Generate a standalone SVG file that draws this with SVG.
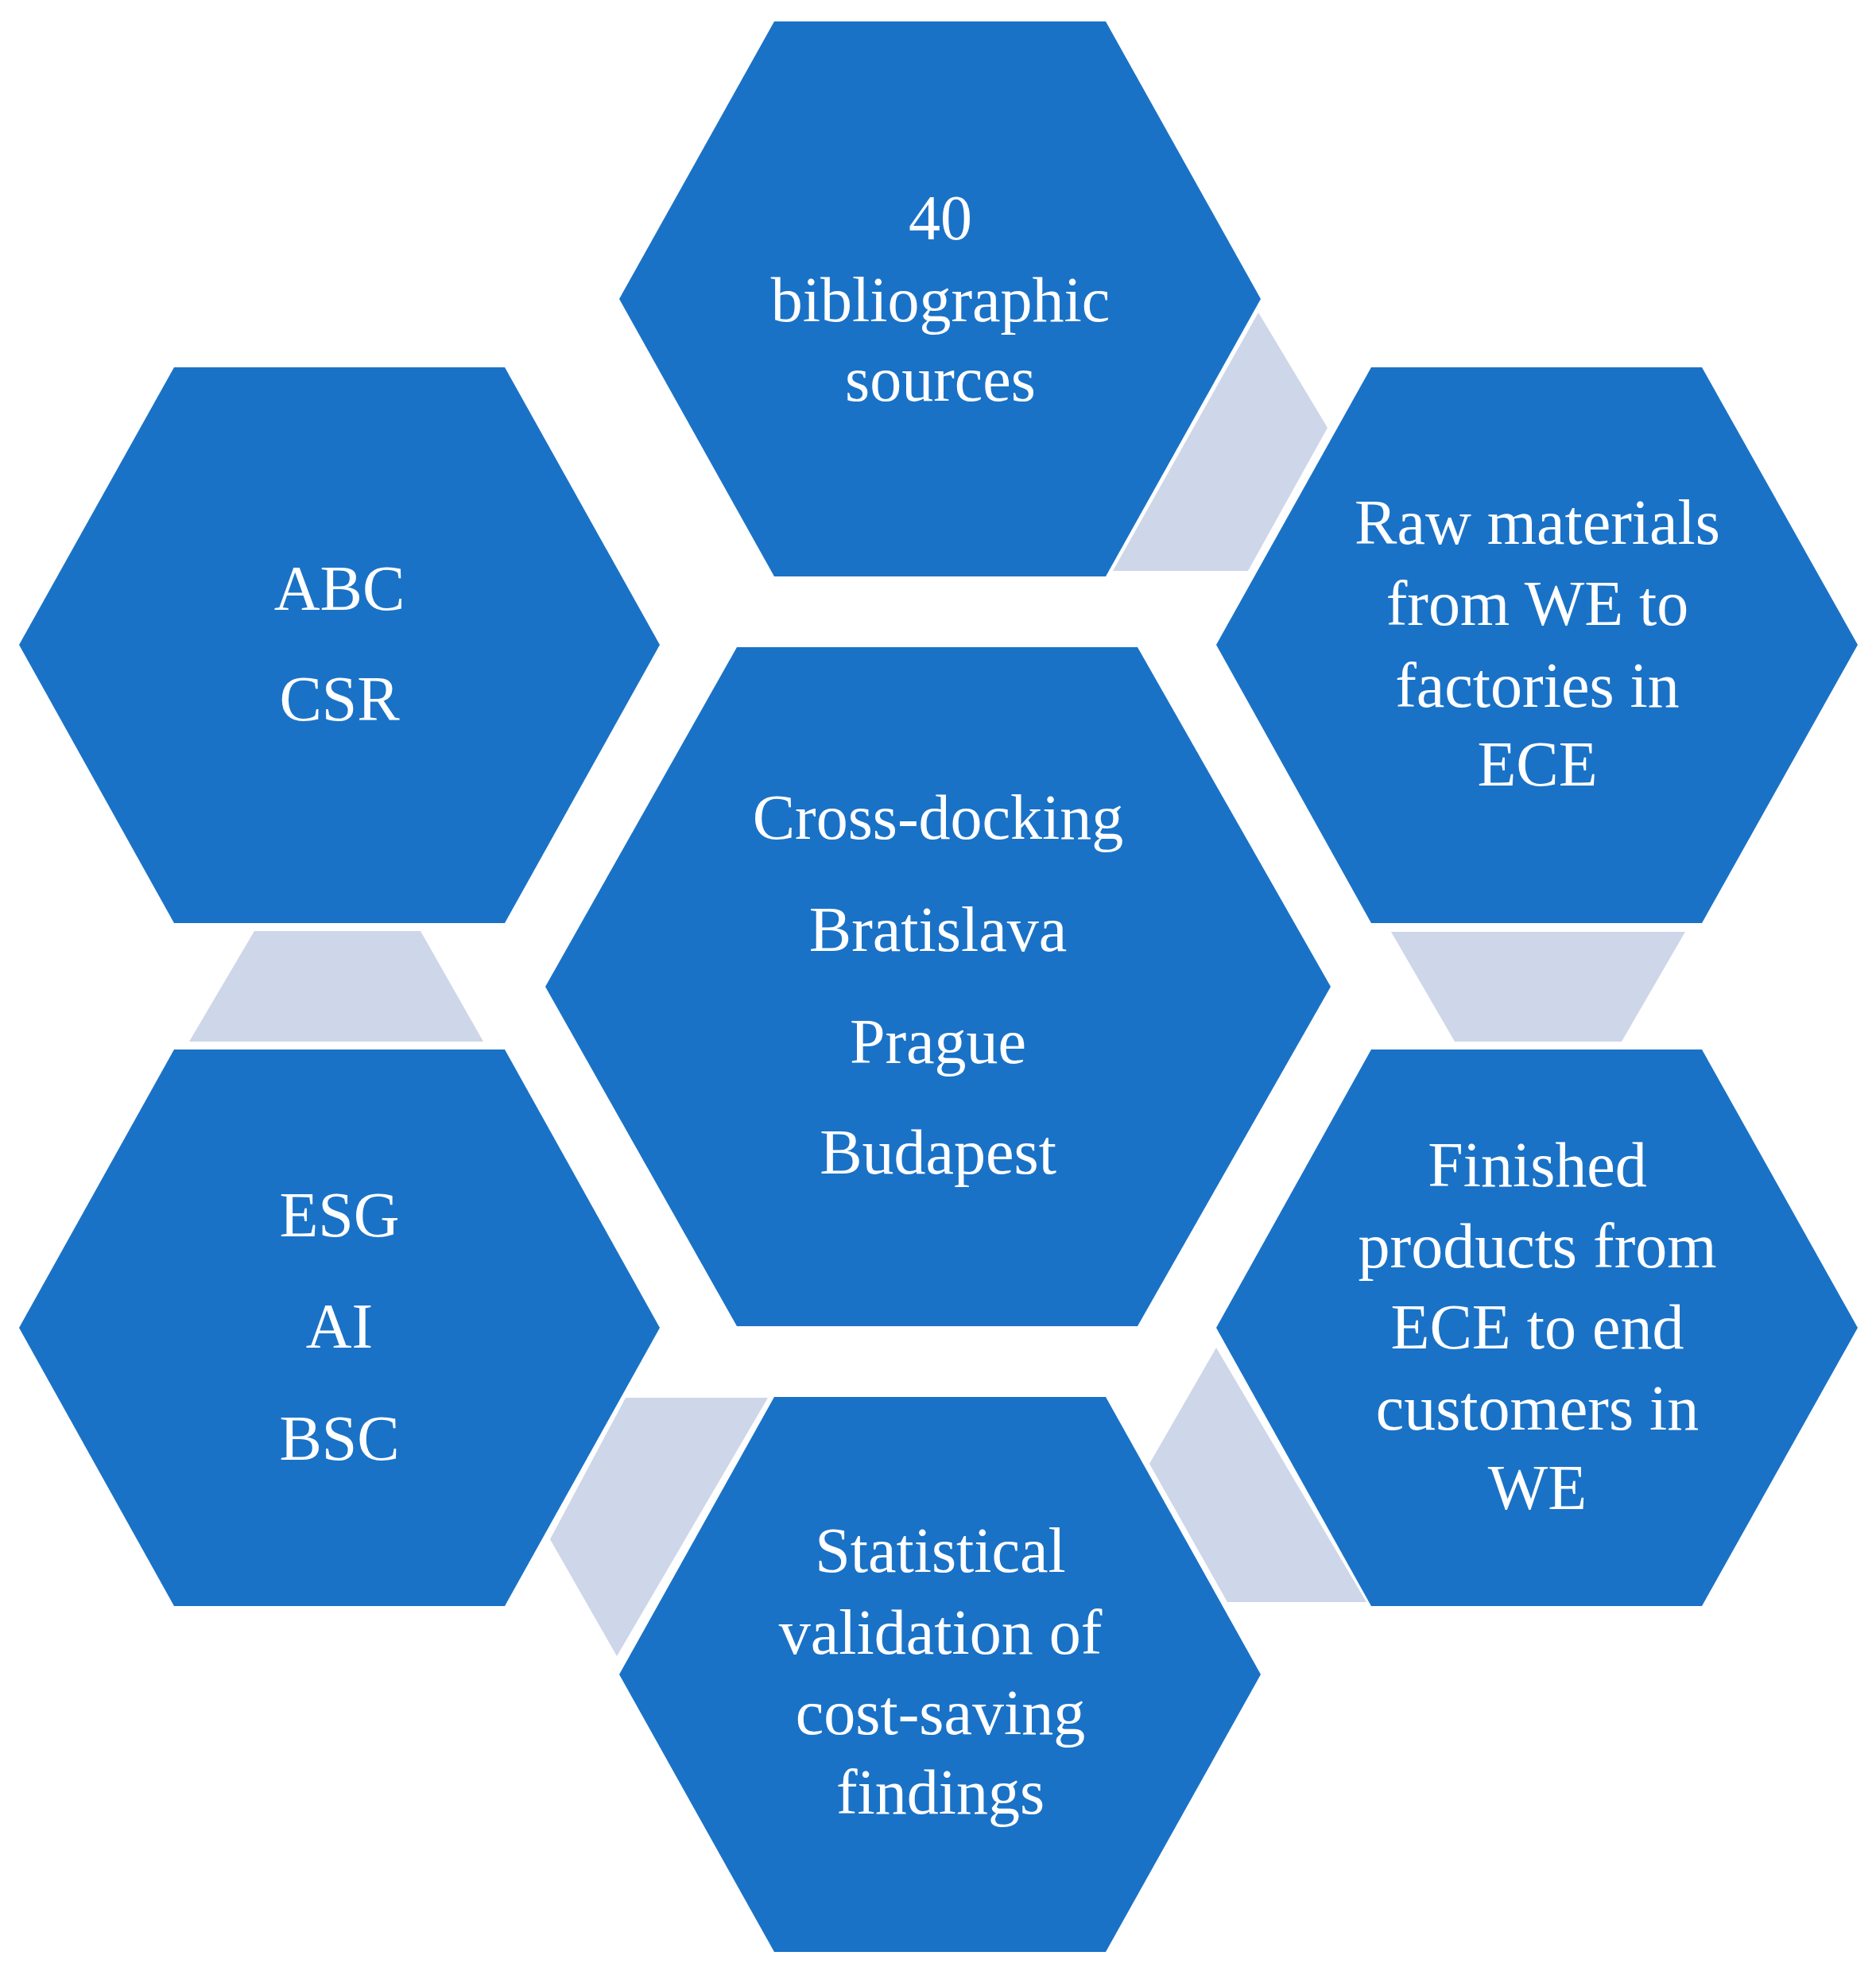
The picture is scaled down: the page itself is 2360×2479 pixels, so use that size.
<svg xmlns="http://www.w3.org/2000/svg" width="2360" height="2479" viewBox="0 0 2360 2479">
<style>
.hex{fill:#1A72C7}
.con{fill:#CED6E9}
text{font-family:"Liberation Serif","DejaVu Serif",serif;font-size:80px;fill:#fff;text-anchor:middle}
</style>
<rect width="2360" height="2479" fill="#fff"/>
<g id="connectors">
<polygon class="con" points="1583,393 1670,538 1570,718 1400,718"/>
<polygon class="con" points="1750,1172 2120,1172 2040,1310 1830,1310"/>
<polygon class="con" points="1530,1695 1719,2015 1544,2015 1446,1841"/>
<polygon class="con" points="787,1758 966,1758 776,2083 692,1936"/>
<polygon class="con" points="320,1171 529,1171 608,1310 238,1310"/>
</g>
<g id="top">
<polygon class="hex" points="974,27 1391,27 1586,376 1391,725 974,725 779,376"/>
<text x="1183" y="301">40</text><text x="1183" y="404">bibliographic</text><text x="1183" y="504">sources</text>
</g>
<g id="abc">
<polygon class="hex" points="219,462 635,462 830,811 635,1161 219,1161 24,811"/>
<text x="427" y="767">ABC</text><text x="427" y="906">CSR</text>
</g>
<g id="raw">
<polygon class="hex" points="1725,462 2141,462 2337,811 2141,1161 1725,1161 1530,811"/>
<text x="1934" y="684">Raw materials</text><text x="1934" y="786">from WE to</text><text x="1934" y="889">factories in</text><text x="1934" y="988">ECE</text>
</g>
<g id="center">
<polygon class="hex" points="927,814 1431,814 1674,1241 1431,1668 927,1668 686,1241"/>
<text x="1180" y="1055">Cross-docking</text><text x="1180" y="1196">Bratislava</text><text x="1180" y="1337">Prague</text><text x="1180" y="1476">Budapest</text>
</g>
<g id="esg">
<polygon class="hex" points="219,1320 635,1320 830,1670 635,2020 219,2020 24,1670"/>
<text x="427" y="1555">ESG</text><text x="427" y="1695">AI</text><text x="427" y="1836">BSC</text>
</g>
<g id="finished">
<polygon class="hex" points="1725,1320 2141,1320 2337,1670 2141,2020 1725,2020 1530,1670"/>
<text x="1934" y="1492">Finished</text><text x="1934" y="1594">products from</text><text x="1934" y="1696">ECE to end</text><text x="1934" y="1798">customers in</text><text x="1934" y="1898">WE</text>
</g>
<g id="stat">
<polygon class="hex" points="974,1757 1391,1757 1586,2106 1391,2455 974,2455 779,2106"/>
<text x="1183" y="1977">Statistical</text><text x="1183" y="2080">validation of</text><text x="1183" y="2181">cost-saving</text><text x="1183" y="2281">findings</text>
</g>
</svg>
